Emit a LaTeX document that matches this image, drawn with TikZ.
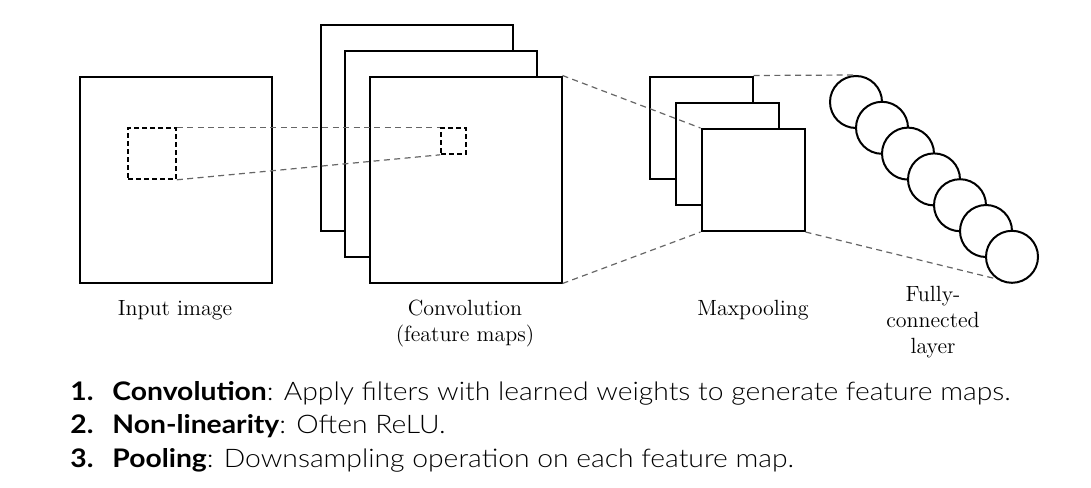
\documentclass[tikz,border=0pt]{standalone}
\usepackage{fontspec}
\newfontfamily\gillfont{Lato}[UprightFont=* Light, BoldFont=* Bold, FakeStretch=1.105]
\begin{document}
\begin{tikzpicture}[x=0.5pt, y=-0.5pt,
  fmap/.style={draw, line width=1pt, fill=white, inner sep=0pt, minimum width=96pt, minimum height=103pt},
  pmap/.style={draw, line width=1pt, fill=white, inner sep=0pt, minimum width=51.5pt, minimum height=51pt},
  unit/.style={circle, draw, line width=1pt, fill=white, inner sep=0pt, minimum size=26pt},
  patch/.style={draw, dash pattern=on 2.5pt off 1.5pt, line width=0.8pt, inner sep=0pt},
  guide/.style={dash pattern=on 3pt off 2.2pt, black!60, line width=0.6pt},
  lbl/.style={font=\fontsize{11}{12.8}\selectfont, align=center, anchor=base, inner sep=0pt},
  item/.style={font=\gillfont\fontsize{12.8}{15}\selectfont, anchor=base west, inner sep=0pt}]
\useasboundingbox (0,0) rectangle (1091,487);
% input image and its receptive field
\node[fmap] (img) at (175.5,179.5) {};
\node[patch, minimum width=24pt, minimum height=25.5pt] (win) at (152,153.5) {};
% convolution stack
\foreach \i/\x/\y in {1/417/128, 2/441/154, 3/465.5/179.5}
  \node[fmap] (conv\i) at (\x,\y) {};
\node[patch, minimum width=12.5pt, minimum height=13pt] (cell) at (453.5,141) {};
\draw[guide] (win.north east) -- (cell.north west);
\draw[guide] (win.south east) -- (cell.south west);
% pooling stack
\foreach \i/\x/\y in {1/701/127.5, 2/727/153.5, 3/753/180}
  \node[pmap] (pool\i) at (\x,\y) {};
\draw[guide] (conv3.north east) -- (pool3.north west);
\draw[guide] (conv3.south east) -- (pool3.south west);
% fully-connected units
\foreach \k in {1,...,7}
  \node[unit] (fc\k) at ({830+26*\k},{76.2+25.8*\k}) {};
\draw[guide] (pool1.north east) -- (fc1.north);
\draw[guide] (pool3.south east) -- (fc7.-125);
% captions (base = last line)
\node[lbl] (limg) at (175,315) {Input image};
\node[lbl] (lconv) at (465,341) {Convolution\\(feature maps)};
\node[lbl] (lpool) at (753,315) {Maxpooling};
\node[lbl] (lfc) at (933,353) {Fully-\\connected\\layer};
% list of steps
\node[item] (n1) at (70,400) {\bfseries 1.};
\node[item] (t1) at (112,400) {\textbf{Convolution}: Apply filters with learned weights to generate feature maps.};
\node[item] (n2) at (70,433) {\bfseries 2.};
\node[item] (t2) at (112,433) {\textbf{Non-linearity}: Often ReLU.};
\node[item] (n3) at (70,467) {\bfseries 3.};
\node[item] (t3) at (112,467) {\textbf{Pooling}: Downsampling operation on each feature map.};
\end{tikzpicture}
\end{document}
